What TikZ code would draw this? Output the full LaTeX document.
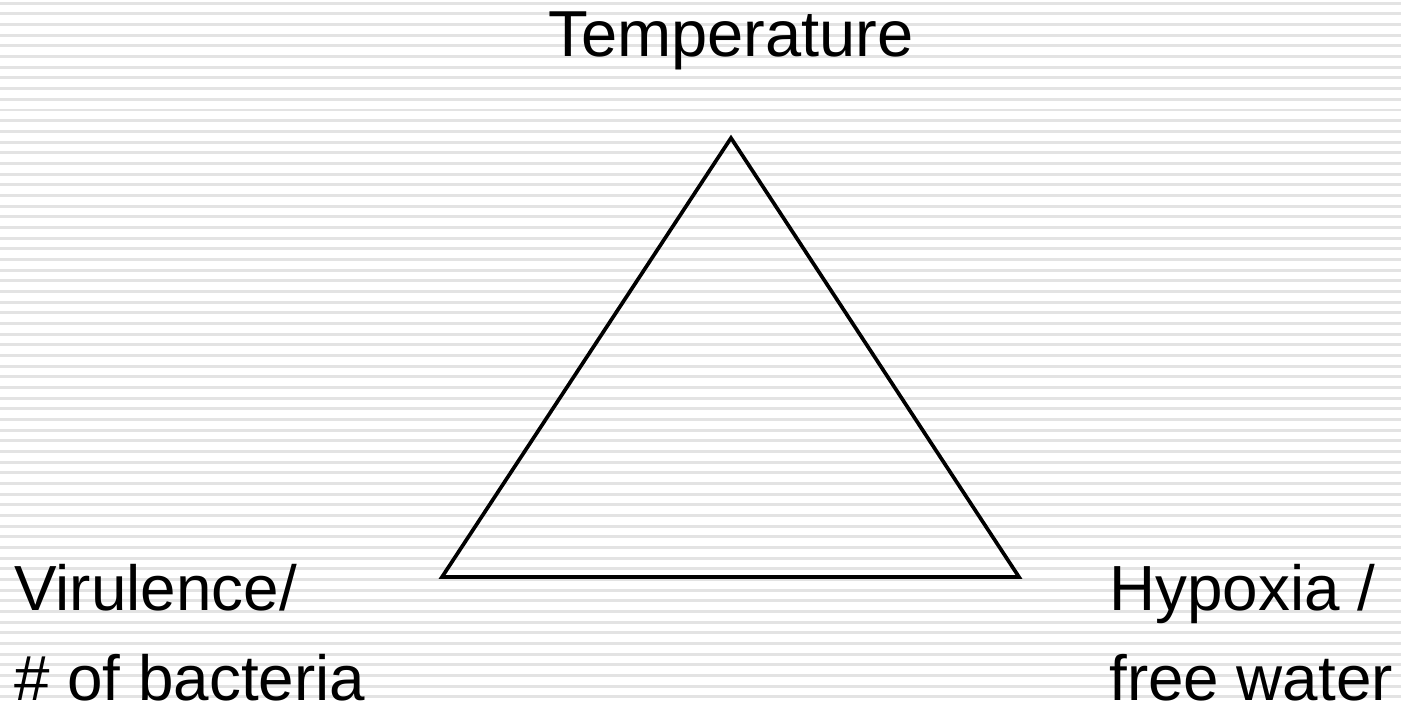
\documentclass[tikz,border=0pt]{standalone}
\usepackage{fontspec}
\setmainfont{Liberation Sans}
\usepackage{tikz}
\usetikzlibrary{positioning}

\tikzset{
    stripe/.style={line width=1.7pt, gray!22},
    label/.style={inner sep=0pt, align=left, font=\fontsize{36.3}{51.2}\selectfont},
    edge/.style={line width=2.1pt, line join=miter}
}

\begin{document}
\begin{tikzpicture}[x=0.02cm, y=-0.02cm]

    % Fondo con rayas horizontales
    \fill[white] (0,0) rectangle (1401,706);
    \useasboundingbox (0,0) rectangle (1401,706);
    \foreach \k in {0,...,65}
        \draw[stripe] (0,{3.3+10.67*\k}) -- (1401,{3.3+10.67*\k});

    % Vertices del triangulo
    \coordinate (Top) at (731,138);
    \coordinate (Left) at (442,577);
    \coordinate (Right) at (1019,577);

    \draw[edge] (Top) -- (Left) -- (Right) -- cycle;

    % Etiquetas (base = ultima linea)
    \node[label, anchor=base, font=\fontsize{37}{51.2}\selectfont] (temp) at (731,57) {Temperature};
    \node[label, anchor=base west] (vir) at (14,700) {Virulence/\\\# of bacteria};
    \node[label, anchor=base west] (hyp) at (1109,700) {Hypoxia /\\free water};

\end{tikzpicture}
\end{document}
